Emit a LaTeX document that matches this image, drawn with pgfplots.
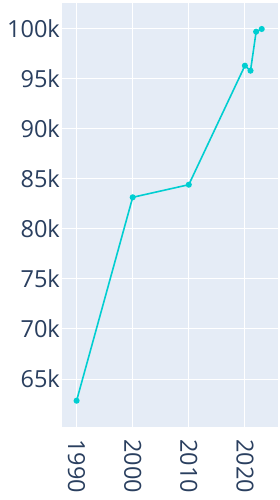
\documentclass[border=0pt]{standalone}
\usepackage{pgfplots}
\pgfplotsset{compat=1.18}
\usepackage{fontspec}
\setmainfont{Open Sans}
\definecolor{bgc}{HTML}{E5ECF6}
\definecolor{txt}{HTML}{2A3F5F}
\definecolor{linec}{HTML}{00CED1}
\begin{document}
\begin{tikzpicture}
\path[use as bounding box] (-62pt,-73pt) rectangle (218pt,427pt);
\begin{axis}[
  at={(0,0)}, anchor=south west,
  scale only axis, width=216pt, height=424pt,
  xmin=1987.4, xmax=2025.9,
  ymin=60200, ymax=102600,
  axis background/.style={fill=bgc},
  axis line style={draw=none},
  major tick length=0pt,
  grid=major,
  major grid style={white, line width=1pt},
  xtick={1990,2000,2010,2020},
  ytick={65000,70000,75000,80000,85000,90000,95000,100000},
  yticklabels={65k,70k,75k,80k,85k,90k,95k,100k},
  xticklabels={1990,2000,2010,2020},
  /pgf/number format/assume math mode=true,
  tick label style={font=\fontsize{23.5}{26}\selectfont, text=txt, inner sep=0pt},
  xticklabel style={rotate=-90, anchor=west},
  xticklabel shift=12pt,
  yticklabel style={anchor=east},
  yticklabel shift=2pt,
  clip=false,
]
\addplot[color=linec, line width=1.6pt, mark=*, mark size=2.2pt, mark options={fill=linec, draw=linec}]
coordinates {
(1990,62830) (2000,83170) (2010,84430) (2020,96330) (2021,95830) (2022,99730) (2023,100000)
};
\end{axis}
\end{tikzpicture}
\end{document}
